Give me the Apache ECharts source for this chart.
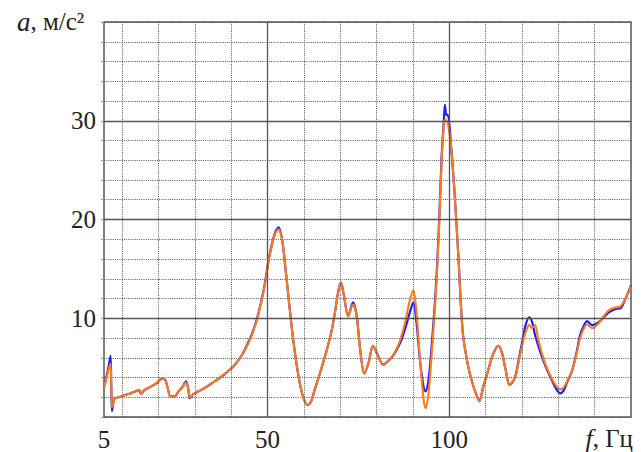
<!DOCTYPE html>
<html>
<head>
<meta charset="utf-8">
<script src="https://cdn.jsdelivr.net/npm/echarts@6/dist/echarts.min.js"></script>
<style>html,body{margin:0;padding:0;background:#fff}#c{width:641px;height:452px}</style>
</head>
<body>
<div id="c"></div>
<script>
const freq = [5.0,5.5,6.0,6.5,6.8,7.0,7.2,7.6,8.0,9,10,11,12,13,14,14.6,15.2,16,17,18,19,20,21,21.8,22.5,23.3,24.5,25.5,26.5,27.6,28.2,28.6,29.5,31,33,35,37,39,41,43,44.5,46,47.5,49,50.5,52,53,54,55,56,57,58,59,60,61,62,63,64.4,66,67.5,68.5,69.5,70.2,71,72.2,73.5,74.5,75.5,76.6,77.8,79.0,80.3,81.8,83,84.3,85.5,86.6,88,89,90.1,91,92,93,93.5,94.3,95,96.3,97.2,97.9,98.5,98.8,99.2,99.6,100.5,101.4,102.5,103.7,105,106,107.3,108.3,109.3,110.6,112,113.5,114.5,115.5,116.6,118,119,119.9,121,122,122.8,123.6,124.5,126.3,128.2,129.5,130.5,131.5,132.5,133.7,135,136,137.2,137.9,139.3,141.1,142.5,143.9,145.8,147.1,148.5,150];
const blueValues = [3.0,3.8,4.6,5.6,6.2,3.0,0.6,1.5,1.9,2.0,2.1,2.25,2.35,2.5,2.65,2.75,2.35,2.7,2.9,3.1,3.3,3.6,3.9,3.8,3.0,2.1,2.1,2.6,3.0,3.6,2.8,1.9,2.3,2.6,3.0,3.5,4.0,4.6,5.3,6.3,7.4,8.7,10.5,13.0,16.3,18.6,19.2,18.0,14.8,11.3,8.0,5.3,3.2,1.8,1.2,1.6,2.8,4.4,6.4,8.5,10.5,12.8,13.6,12.3,10.2,11.6,10.3,6.8,4.4,5.5,7.2,6.3,5.3,5.6,6.1,6.8,7.6,9.1,10.4,11.6,9.5,5.5,2.9,2.6,3.8,6.5,13.0,19.7,26.4,30.0,31.6,30.6,30.6,27.4,23.0,16.3,8.6,5.5,3.9,2.4,1.6,3.0,4.6,6.3,7.2,6.5,4.8,3.25,3.9,5.6,7.3,9.3,10.1,9.6,8.3,7.2,5.3,3.75,2.8,2.4,2.7,3.6,4.6,6.5,8.3,9.4,9.7,9.3,9.6,10.1,10.6,10.95,11.0,12.0,13.3];
const orangeValues = [3.0,3.7,4.4,5.1,5.4,3.4,1.0,1.4,1.9,2.0,2.1,2.25,2.35,2.5,2.65,2.75,2.35,2.7,2.9,3.1,3.3,3.6,3.85,3.75,3.0,2.1,2.1,2.6,3.0,3.5,2.8,2.0,2.3,2.6,3.0,3.5,4.0,4.6,5.3,6.3,7.3,8.6,10.4,12.9,16.2,18.5,19.0,18.0,14.8,11.3,8.0,5.3,3.2,1.8,1.2,1.6,2.8,4.4,6.4,8.5,10.5,12.8,13.6,12.3,10.2,11.4,10.3,6.8,4.4,5.5,7.2,6.3,5.3,5.6,6.1,6.9,7.9,9.8,11.6,12.8,10.5,5.5,1.6,0.9,2.4,5.6,12.4,19.2,26.0,29.6,30.1,30.0,29.8,27.4,23.0,16.3,8.6,5.5,3.9,2.4,1.6,3.0,4.6,6.3,7.2,6.5,4.8,3.3,3.9,5.4,7.0,8.6,9.3,9.0,9.3,7.8,5.5,3.9,3.1,2.8,3.0,3.7,4.6,6.3,8.0,9.1,9.4,9.0,9.5,10.2,10.8,11.1,11.2,12.0,13.2];
const xLabels = [5, 50, 100];
const yLabels = [10, 20, 30];
const xMinorGrid = [10,20,30,40,60,70,80,90,110,120,130,140];
const xMajorGrid = [50,100];
const yMajorGrid = [10,20,30];

const serif = 'Liberation Serif';
const chart = echarts.init(document.getElementById('c'), null, {renderer: 'svg'});
const pairs = (vals) => freq.map((f, i) => [f, vals[i]]);
const minorStyle = {color: '#555', width: 1, type: [1, 1.2]};
const majorStyle = {color: '#555', width: 1.3, type: 'solid'};
const numRich = {n: {fontFamily: serif, fontSize: 25, color: '#222'}};

chart.setOption({
  animation: false,
  backgroundColor: '#fff',
  textStyle: {fontFamily: serif},
  grid: {left: 104, right: 10, top: 22, bottom: 33, show: true, borderColor: '#555', borderWidth: 1.5, backgroundColor: 'transparent'},
  xAxis: {
    type: 'value', min: 5, max: 150, interval: 5,
    axisLine: {show: false}, axisTick: {show: false}, splitLine: {show: false},
    axisLabel: {
      interval: 0, margin: 10, color: '#222', fontFamily: serif, fontSize: 25, rich: numRich,
      formatter: v => xLabels.includes(v) ? '{n|' + v + '}' : ''
    }
  },
  yAxis: {
    type: 'value', min: 0, max: 40, interval: 2,
    axisLine: {show: false},
    axisTick: {show: true, length: 3, lineStyle: {color: '#999', width: 1}},
    splitLine: {show: true, lineStyle: minorStyle},
    axisLabel: {
      interval: 0, margin: 8, color: '#222', fontFamily: serif, fontSize: 25, rich: numRich,
      formatter: v => yLabels.includes(v) ? '{n|' + v + '}' : ''
    }
  },
  graphic: [
    {type: 'text', left: 17, top: 8, style: {
      text: '{i|a}, м/с²', fontFamily: serif, fontSize: 25, fill: '#222',
      rich: {i: {fontStyle: 'italic', fontSize: 27, fontFamily: serif, fill: '#222'}}
    }},
    {type: 'text', right: 8, top: 425, style: {
      text: '{i|f}, Гц', fontFamily: serif, fontSize: 25, fill: '#222',
      rich: {i: {fontStyle: 'italic', fontSize: 26, fontFamily: serif, fill: '#222'}}
    }}
  ],
  series: [
    {
      type: 'line', data: [], z: 1, silent: true,
      markLine: {
        silent: true, symbol: 'none', label: {show: false}, animation: false,
        data: [
          ...xMinorGrid.map(v => ({xAxis: v, lineStyle: minorStyle})),
          ...xMajorGrid.map(v => ({xAxis: v, lineStyle: majorStyle})),
          ...yMajorGrid.map(v => ({yAxis: v, lineStyle: majorStyle}))
        ]
      }
    },
    {
      type: 'line', data: pairs(blueValues), z: 3, showSymbol: false, smooth: 0.3,
      lineStyle: {color: '#1f1ff0', width: 2.2}
    },
    {
      type: 'line', data: pairs(orangeValues), z: 4, showSymbol: false, smooth: 0.3,
      lineStyle: {color: '#ff7a1a', width: 2.1}
    }
  ]
});
</script>
</body>
</html>
